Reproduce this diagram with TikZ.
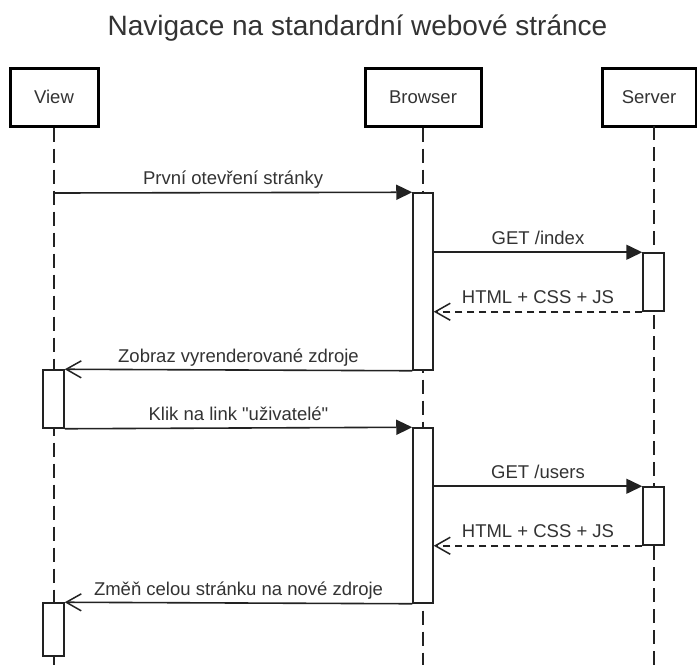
\documentclass[tikz,border=0pt]{standalone}
\usepackage{fontspec}
\setmainfont{Liberation Sans}
\newfontfamily\plainfont{Liberation Sans}
\usetikzlibrary{arrows.meta}
\definecolor{ink}{HTML}{222222}
\definecolor{txt}{HTML}{333333}
\newcommand{\sq}{{\plainfont"}}
\begin{document}
\begin{tikzpicture}[x=1pt,y=-1pt,
  lbl/.style={font=\fontsize{18.5}{22}\selectfont, text=txt},
  actor/.style={draw=black, line width=3pt, fill=white, minimum height=58pt, inner sep=0pt, lbl},
  actbox/.style={draw=ink, line width=1.5pt, fill=white, inner sep=0pt, minimum width=21pt},
  life/.style={draw=ink, line width=1.5pt, dash pattern=on 14pt off 7pt},
  call/.style={draw=ink, line width=1.6pt, -{Triangle[length=16pt,width=15pt]}},
  ret/.style={draw=ink, line width=1.6pt, dash pattern=on 7pt off 5pt, -{Straight Barb[length=15pt,width=17pt,line width=1.5pt]}},
  reply/.style={draw=ink, line width=1.6pt, -{Straight Barb[length=15pt,width=17pt,line width=1.5pt]}},
  msg/.style={midway, anchor=base, yshift=8pt, inner sep=0pt, lbl}
]
\useasboundingbox (0,0) rectangle (697,665);
\fill[white] (0,0) rectangle (697,665);

% title
\node[anchor=base, font=\fontsize{28}{32}\selectfont, text=txt] (title) at (357.5,35) {Navigace na standardní webové stránce};

% actors
\node[actor, minimum width=88pt] (view) at (54,97) {View};
\node[actor, minimum width=116pt] (browser) at (423,97) {Browser};
\node[actor, minimum width=94pt] (server) at (649,97) {Server};

% lifeline endpoints
\coordinate (vEnd) at (54,665);
\coordinate (bEnd) at (423,665);
\coordinate (sTop) at (654,126);
\coordinate (sEnd) at (654,665);
\draw[life] (view.south) -- (vEnd);
\draw[life] (browser.south) -- (bEnd);
\draw[life] (sTop) -- (sEnd);

% activation boxes
\node[actbox, minimum width=20pt, minimum height=177pt] (b1) at (423,281.5) {};
\node[actbox, minimum height=58pt] (s1) at (653.5,282) {};
\node[actbox, minimum height=58pt] (v1) at (53.5,399) {};
\node[actbox, minimum width=20pt, minimum height=175pt] (b2) at (423,515.5) {};
\node[actbox, minimum height=58pt] (s2) at (653.5,516) {};
\node[actbox, minimum height=53pt] (v2) at (53.5,629.5) {};

% messages
\coordinate (m1s) at (54,193);
\draw[call] (m1s) -- (b1.north west) node[msg] {První otevření stránky};
\draw[call] (b1.east |- s1.north) -- (s1.north west) node[msg] {GET /index};
\draw[ret] (s1.south west) -- (b1.east |- s1.south) node[msg] {HTML + CSS + JS};
\draw[reply] (b1.south west) -- (v1.north east) node[msg] {Zobraz vyrenderované zdroje};
\draw[call] (v1.south east) -- (b2.north west) node[msg] {Klik na link \sq uživatelé\sq};
\draw[call] (b2.east |- s2.north) -- (s2.north west) node[msg] {GET /users};
\draw[ret] (s2.south west) -- (b2.east |- s2.south) node[msg] {HTML + CSS + JS};
\draw[reply] (b2.south west) -- (v2.north east) node[msg] {Změň celou stránku na nové zdroje};
\end{tikzpicture}
\end{document}
